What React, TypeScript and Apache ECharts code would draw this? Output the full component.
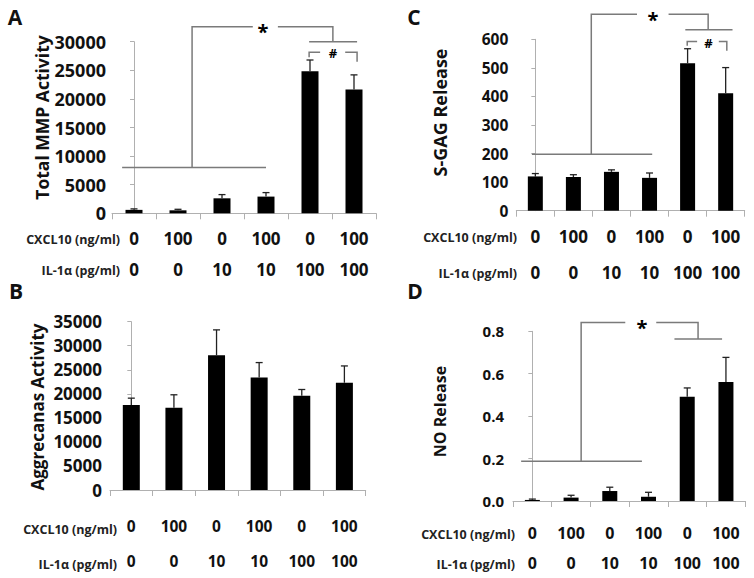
import React, { useEffect, useRef } from 'react';
import * as echarts from 'echarts';

// ---- data ----
const categories = ['g1', 'g2', 'g3', 'g4', 'g5', 'g6'];
const cxcl10 = ['0', '100', '0', '100', '0', '100'];
const il1a = ['0', '0', '10', '10', '100', '100'];

// Panel A: Total MMP Activity
const mmpMean = [600, 520, 2620, 2920, 24850, 21650];
const mmpSd = [170, 180, 650, 700, 1950, 2550];
// Panel B: Aggrecanas Activity
const aggMean = [17700, 17100, 28000, 23400, 19600, 22300];
const aggSd = [1400, 2700, 5300, 3100, 1300, 3500];
// Panel C: S-GAG Release
const gagMean = [120, 118, 136, 115, 516, 411];
const gagSd = [10, 8, 7, 17, 51, 90];
// Panel D: NO Release
const noMean = [0.005, 0.016, 0.047, 0.02, 0.491, 0.561];
const noSd = [0.004, 0.011, 0.018, 0.021, 0.042, 0.116];

// significance brackets, in [category position, value] units
const bracketsA = [
  [[-0.27, 8000], [3.0, 8000]],
  [[1.32, 8000], [1.32, 32600], [2.7, 32600]],
  [[3.27, 32600], [4.52, 32600], [4.52, 30000]],
  [[3.98, 30000], [5.07, 30000]],
  [[3.98, 27300], [3.98, 28150], [4.23, 28150]],
  [[4.8, 28150], [5.07, 28150], [5.07, 26500]],
];
const marksA = [['*', 2.93, 32600], ['#', 4.52, 28150]];
const bracketsC = [
  [[-0.09, 198], [3.07, 198]],
  [[1.47, 198], [1.47, 688], [2.67, 688]],
  [[3.5, 688], [4.54, 688], [4.54, 633]],
  [[3.94, 633], [5.18, 633]],
  [[3.99, 577], [3.99, 592], [4.25, 592]],
  [[4.82, 592], [5.03, 592], [5.03, 560]],
];
const marksC = [['*', 3.09, 688], ['#', 4.55, 592]];
const bracketsD = [
  [[-0.29, 0.187], [2.83, 0.187]],
  [[1.26, 0.187], [1.26, 0.842], [2.4, 0.842]],
  [[3.2, 0.842], [4.28, 0.842], [4.28, 0.764]],
  [[3.67, 0.764], [4.9, 0.764]],
];
const marksD = [['*', 2.83, 0.842]];

const FONT = '"Open Sans", Lato, sans-serif';
const AXIS_COLOR = '#b0b0b0';
const BRACKET_COLOR = '#7a7a7a';

type Panel = {
  grid: { left: number; top: number; width: number; height: number };
  max: number;
  interval: number;
  decimals: number;
  yFont: number;
  yMargin: number;
  mean: number[];
  sd: number[];
  barWidth: number;
  lineHeight: number;
  labelMargin: number;
  tableFont: number;
  brackets: number[][][];
  marks: (string | number)[][];
};

const panels: Panel[] = [
  {
    grid: { left: 112, top: 41.7, width: 264, height: 171.6 },
    max: 30000, interval: 5000, decimals: 0, yFont: 18, yMargin: 6,
    mean: mmpMean, sd: mmpSd, barWidth: 17,
    lineHeight: 31, labelMargin: 10, tableFont: 17,
    brackets: bracketsA, marks: marksA,
  },
  {
    grid: { left: 516.3, top: 39.3, width: 228.4, height: 171.4 },
    max: 600, interval: 100, decimals: 0, yFont: 15.5, yMargin: 8,
    mean: gagMean, sd: gagSd, barWidth: 15,
    lineHeight: 36, labelMargin: 8, tableFont: 17,
    brackets: bracketsC, marks: marksC,
  },
  {
    grid: { left: 110, top: 321.7, width: 255.7, height: 172 },
    max: 35000, interval: 5000, decimals: 0, yFont: 17, yMargin: 8,
    mean: aggMean, sd: aggSd, barWidth: 17,
    lineHeight: 35, labelMargin: 18, tableFont: 15.5,
    brackets: [], marks: [],
  },
  {
    grid: { left: 513, top: 331.3, width: 232.3, height: 171 },
    max: 0.8, interval: 0.2, decimals: 1, yFont: 15, yMargin: 9,
    mean: noMean, sd: noSd, barWidth: 15,
    lineHeight: 30, labelMargin: 17, tableFont: 16,
    brackets: bracketsD, marks: marksD,
  },
];

const titles = [
  { text: 'Total MMP Activity', x: 42, y: 117.5, size: 17.5 },
  { text: 'S-GAG Release', x: 440, y: 112.5, size: 18 },
  { text: 'Aggrecanas Activity', x: 37, y: 407, size: 17 },
  { text: 'NO Release', x: 440, y: 411.5, size: 16 },
];
const letters = [
  { text: 'A', x: 15, y: 17 },
  { text: 'C', x: 414, y: 17 },
  { text: 'B', x: 16, y: 291 },
  { text: 'D', x: 415, y: 291 },
];
const headers = [
  { right: 120, y1: 239, y2: 270 },
  { right: 517, y1: 237, y2: 273 },
  { right: 117, y1: 529, y2: 564 },
  { right: 515, y1: 534, y2: 564 },
];

function buildOption() {
  const grids: any[] = [];
  const xAxes: any[] = [];
  const yAxes: any[] = [];
  const series: any[] = [];
  const graphics: any[] = [];

  panels.forEach((p, k) => {
    grids.push({ ...p.grid });
    xAxes.push({
      type: 'category',
      gridIndex: k,
      data: categories,
      axisLine: { show: true, lineStyle: { color: AXIS_COLOR, width: 1 } },
      axisTick: { show: true, length: 6, lineStyle: { color: AXIS_COLOR } },
      axisLabel: {
        interval: 0,
        margin: p.labelMargin,
        lineHeight: p.lineHeight,
        fontSize: p.tableFont,
        fontWeight: 'bold',
        fontFamily: FONT,
        color: '#111',
        formatter: (_v: string, i: number) => `${cxcl10[i]}\n${il1a[i]}`,
      },
      splitLine: { show: false },
    });
    xAxes.push({
      type: 'value',
      gridIndex: k,
      min: -0.5,
      max: 5.5,
      show: false,
    });
    yAxes.push({
      type: 'value',
      gridIndex: k,
      min: 0,
      max: p.max,
      interval: p.interval,
      axisLine: { show: true, lineStyle: { color: AXIS_COLOR, width: 1 } },
      axisTick: { show: true, length: 4, lineStyle: { color: AXIS_COLOR } },
      splitLine: { show: false },
      axisLabel: {
        margin: p.yMargin,
        fontSize: p.yFont,
        fontWeight: 'bold',
        fontFamily: FONT,
        color: '#111',
        formatter: (v: number) => v.toFixed(p.decimals),
      },
    });

    series.push({
      type: 'bar',
      xAxisIndex: 2 * k,
      yAxisIndex: k,
      data: p.mean,
      barWidth: p.barWidth,
      itemStyle: { color: '#000' },
      z: 2,
    });
    series.push({
      type: 'custom',
      xAxisIndex: 2 * k,
      yAxisIndex: k,
      data: p.mean.map((m, i) => [i, m, p.sd[i]]),
      encode: { x: 0, y: 1 },
      clip: false,
      z: 3,
      renderItem: (_params: any, api: any) => {
        const i = api.value(0);
        const m = api.value(1);
        const s = api.value(2);
        const p0 = api.coord([i, m]);
        const p1 = api.coord([i, m + s]);
        const st = { stroke: '#222', lineWidth: 1.3 };
        return {
          type: 'group',
          children: [
            { type: 'line', shape: { x1: p0[0], y1: p0[1], x2: p1[0], y2: p1[1] }, style: st },
            { type: 'line', shape: { x1: p1[0] - 3.5, y1: p1[1], x2: p1[0] + 3.5, y2: p1[1] }, style: st },
          ],
        };
      },
    });
    if (p.brackets.length) {
      series.push({
        type: 'custom',
        xAxisIndex: 2 * k + 1,
        yAxisIndex: k,
        data: p.brackets.map((b, i) => [b[0][0], b[0][1], i]),
        encode: { x: 0, y: 1 },
        clip: false,
        silent: true,
        z: 4,
        renderItem: (_params: any, api: any) => {
          const idx = api.value(2);
          const pts = p.brackets[idx].map((pt) => api.coord(pt));
          return {
            type: 'polyline',
            shape: { points: pts },
            style: { stroke: BRACKET_COLOR, lineWidth: 1.5, fill: 'none' },
          };
        },
      });
      series.push({
        type: 'custom',
        xAxisIndex: 2 * k + 1,
        yAxisIndex: k,
        data: p.marks.map((m, i) => [m[1], m[2], i]),
        encode: { x: 0, y: 1 },
        clip: false,
        silent: true,
        z: 5,
        renderItem: (_params: any, api: any) => {
          const idx = api.value(2);
          const mk = p.marks[idx];
          const pt = api.coord([mk[1], mk[2]]);
          const isStar = mk[0] === '*';
          return {
            type: 'text',
            x: pt[0],
            y: pt[1] + (isStar ? 5 : 1),
            style: {
              text: mk[0] as string,
              fontSize: isStar ? 20 : 13,
              fontWeight: 'bold',
              fontFamily: FONT,
              fill: '#000',
              align: 'center',
              verticalAlign: 'middle',
            },
          };
        },
      });
    }
  });

  titles.forEach((t) => {
    graphics.push({
      type: 'text',
      x: t.x,
      y: t.y,
      rotation: Math.PI / 2,
      style: {
        text: t.text,
        fontSize: t.size,
        fontWeight: 'bold',
        fontFamily: FONT,
        fill: '#111',
        align: 'center',
        verticalAlign: 'middle',
      },
    });
  });
  letters.forEach((t) => {
    graphics.push({
      type: 'text',
      x: t.x,
      y: t.y,
      style: {
        text: t.text,
        fontSize: 21,
        fontWeight: 'bold',
        fontFamily: FONT,
        fill: '#111',
        align: 'center',
        verticalAlign: 'middle',
      },
    });
  });
  headers.forEach((h) => {
    [
      { text: 'CXCL10 (ng/ml)', y: h.y1 },
      { text: 'IL-1α (pg/ml)', y: h.y2 },
    ].forEach((r) => {
      graphics.push({
        type: 'text',
        x: h.right,
        y: r.y,
        style: {
          text: r.text,
          fontSize: 12.5,
          fontWeight: 'bold',
          fontFamily: FONT,
          fill: '#222',
          align: 'right',
          verticalAlign: 'middle',
        },
      });
    });
  });

  return {
    animation: false,
    backgroundColor: '#fff',
    grid: grids,
    xAxis: xAxes,
    yAxis: yAxes,
    series,
    graphic: graphics,
  };
}

export default function App() {
  const ref = useRef<HTMLDivElement>(null);
  useEffect(() => {
    if (!ref.current) return;
    const chart = echarts.init(ref.current, undefined, { renderer: 'svg' });
    chart.setOption(buildOption() as any);
    return () => chart.dispose();
  }, []);
  return (
    <div
      ref={ref}
      style={{ position: 'fixed', left: 0, top: 0, width: 754, height: 578, background: '#fff' }}
    />
  );
}
